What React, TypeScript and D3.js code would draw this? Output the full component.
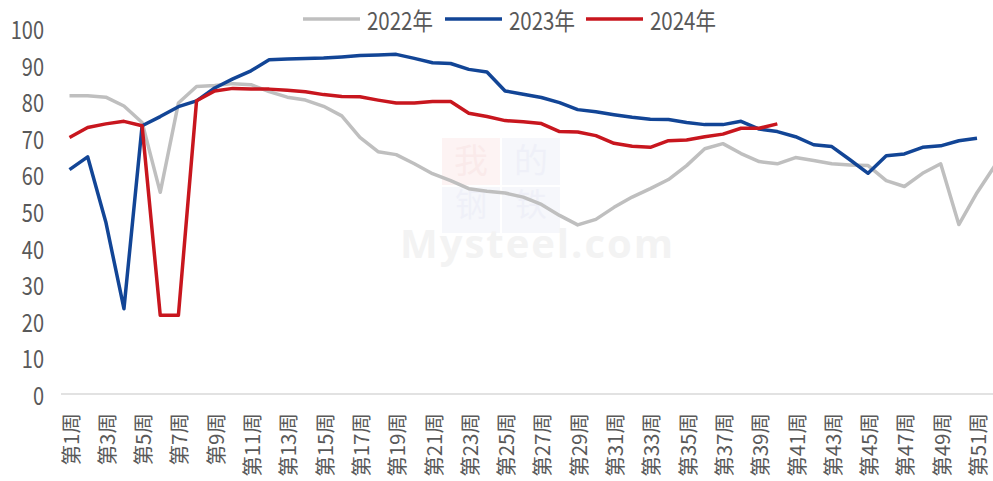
import React from "react";
import * as d3 from "d3";

const weeks: number[] = Array.from({ length: 52 }, (_, i) => i + 1);
const weekLabels: string[] = weeks.map((w) => `第${w}周`);
const yTicks: number[] = [0, 10, 20, 30, 40, 50, 60, 70, 80, 90, 100];

const series2022: number[] = [
  81.5, 81.5, 81.1, 78.7, 74.2, 55.1, 79.5, 84.0, 84.3, 84.8,
  84.5, 82.6, 81.1, 80.3, 78.6, 76.0, 70.1, 66.2, 65.4, 62.9,
  60.2, 58.3, 56.1, 55.4, 54.9, 53.8, 51.8, 48.8, 46.2, 47.7,
  51.0, 53.8, 56.1, 58.6, 62.4, 67.0, 68.4, 65.7, 63.5, 62.9,
  64.6, 63.8, 62.9, 62.6, 62.4, 58.3, 56.7, 60.3, 62.9, 46.3,
  55.0, 62.5,
];
const series2023: number[] = [
  61.3, 64.8, 47.0, 23.3, 73.3, 75.8, 78.5, 80.1, 83.6, 86.1,
  88.3, 91.3, 91.5, 91.7, 91.8, 92.1, 92.5, 92.6, 92.8, 91.7,
  90.5, 90.3, 88.7, 88.0, 82.8, 81.9, 81.0, 79.6, 77.7, 77.1,
  76.3, 75.6, 75.1, 75.0, 74.2, 73.6, 73.6, 74.5, 72.4, 71.7,
  70.3, 68.1, 67.6, 64.0, 60.3, 65.1, 65.6, 67.4, 67.8, 69.2,
  69.9,
];
const series2024: number[] = [
  70.1, 72.8, 73.8, 74.5, 73.3, 21.5, 21.5, 80.1, 82.8, 83.5,
  83.3, 83.3, 83.0, 82.6, 81.8, 81.3, 81.2, 80.3, 79.5, 79.5,
  79.9, 79.9, 76.7, 75.8, 74.7, 74.4, 73.9, 71.7, 71.6, 70.6,
  68.5, 67.7, 67.4, 69.2, 69.4, 70.3, 71.0, 72.6, 72.6, 73.8,
];

const seriesNames: string[] = ["2022年", "2023年", "2024年"];
const seriesColors: string[] = ["#BFBFBF", "#124596", "#C8161E"];
const allSeries: number[][] = [series2022, series2023, series2024];

const W = 993;
const H = 481;
const FONT = "'Noto Sans CJK SC', 'Noto Sans', sans-serif";

export default function App() {
  const x = d3.scaleLinear().domain([1, 52]).range([69.5, 69.5 + 51 * 18.15]);
  const y = d3.scaleLinear().domain([0, 100]).range([394, 28]);
  const line = d3
    .line<number>()
    .x((_, i) => x(i + 1))
    .y((d) => y(d))
    .curve(d3.curveLinear);

  const legendX = [303, 445, 586];

  return (
    <svg
      width={W}
      height={H}
      style={{ position: "fixed", left: 0, top: 0, background: "#fff" }}
    >
      <rect x={0} y={0} width={W} height={H} fill="#fff" />
      {/* watermark */}
      <g opacity={0.4}>
        <rect x={442} y={138} width={58} height={47} fill="#fbe3e3" />
        <rect x={502} y={138} width={58} height={47} fill="#e9ecf6" />
        <rect x={442} y={187} width={58} height={46} fill="#e9ecf6" />
        <rect x={502} y={187} width={58} height={46} fill="#e9ecf6" />
        <text x={471} y={173} fontSize={34} textAnchor="middle" fill="#f3cccc" fontFamily={FONT}>我</text>
        <text x={531} y={173} fontSize={34} textAnchor="middle" fill="#d8dcee" fontFamily={FONT}>的</text>
        <text x={471} y={216} fontSize={32} textAnchor="middle" fill="#d8dcee" fontFamily={FONT}>钢</text>
        <text x={531} y={216} fontSize={32} textAnchor="middle" fill="#d8dcee" fontFamily={FONT}>铁</text>
      </g>
      <text x={400} y={258} fontSize={40} fill="#f3f3f3" fontFamily="'Open Sans', sans-serif" fontWeight={700} textLength={273}>Mysteel.com</text>

      {/* x axis line */}
      <line x1={61} x2={W} y1={y(0)} y2={y(0)} stroke="#D9D9D9" strokeWidth={1.5} />

      {/* y tick labels */}
      {yTicks.map((t) => (
        <text
          key={t}
          transform={`translate(44, ${y(t)}) scale(1, 1.22)`}
          textAnchor="end"
          dominantBaseline="central"
          fontSize={20}
          fill="#595959"
          fontFamily={FONT}
        >
          {t}
        </text>
      ))}

      {/* x tick labels */}
      {weeks
        .filter((w) => w % 2 === 1)
        .map((w) => (
          <text
            key={w}
            transform={`translate(${x(w)}, 413) rotate(-90)`}
            textAnchor="end"
            dominantBaseline="central"
            fontSize={20.5}
            fill="#595959"
            fontFamily={FONT}
          >
            {weekLabels[w - 1]}
          </text>
        ))}

      {/* lines */}
      {allSeries.map((s, i) => (
        <path
          key={i}
          d={line(s) || ""}
          fill="none"
          stroke={seriesColors[i]}
          strokeWidth={3.5}
          strokeLinejoin="round"
        />
      ))}

      {/* legend */}
      {seriesNames.map((n, i) => (
        <g key={n}>
          <line
            x1={legendX[i]}
            x2={legendX[i] + 57}
            y1={19}
            y2={19}
            stroke={seriesColors[i]}
            strokeWidth={3.5}
          />
          <text
            transform={`translate(${legendX[i] + 64}, 19) scale(1, 1.18)`}
            dominantBaseline="central"
            fontSize={20.5}
            fill="#595959"
            fontFamily={FONT}
          >
            {n}
          </text>
        </g>
      ))}
    </svg>
  );
}
